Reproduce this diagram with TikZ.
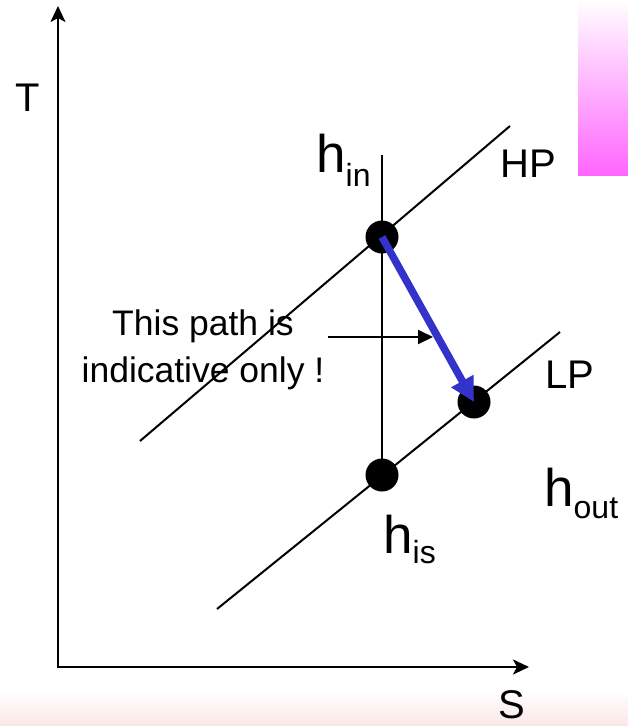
\documentclass[tikz,border=0pt]{standalone}
\usepackage{fontspec}
\setmainfont{Liberation Sans}
\usetikzlibrary{arrows.meta}
\definecolor{pinkbar}{RGB}{255,102,255}
\definecolor{pinkband}{RGB}{252,230,230}
\definecolor{pathblue}{RGB}{51,51,204}
\newcommand{\enth}[2]{{\fontsize{53}{53}\selectfont h}\raisebox{-#2}{\fontsize{32}{32}\selectfont #1}}

\begin{document}
\begin{tikzpicture}[
x=1pt, y=-1pt,
dot/.style={circle, fill=black, minimum size=33pt, inner sep=0},
big/.style={font=\fontsize{40}{40}\selectfont, inner sep=0, anchor=base},
hlabel/.style={inner sep=0, anchor=base west},
line/.style={line width=2pt}
]
\useasboundingbox (0,0) rectangle (628,726);

\shade[top color=white, bottom color=pinkbar] (578,0) rectangle (628,175);
\shade[top color=white, bottom color=pinkband] (0,690) rectangle (628,726);

\coordinate (O) at (58,667);
\coordinate (Ttop) at (58,6);
\coordinate (Send) at (529,667);
\draw[line width=2.5pt, {Stealth[length=16pt,width=15pt,inset=4pt]}-{Stealth[length=16pt,width=15pt,inset=4pt]}] (Ttop) -- (O) -- (Send);

\node[big] (T) at (28,111) {T};
\node[big] (S) at (512,718) {S};

\coordinate (hp1) at (140,441);
\coordinate (hp2) at (510,126);
\coordinate (lp1) at (217,609);
\coordinate (lp2) at (560,332);
\coordinate (vtop) at (382,155);

\draw[line] (hp1) -- (hp2);
\draw[line] (lp1) -- (lp2);

\node[dot] (hin) at (382,237) {};
\node[dot] (his) at (382,475) {};
\node[dot] (hout) at (474,402) {};

\draw[line] (vtop) -- (his.center);
\draw[pathblue, line width=7.5pt, -{Triangle[length=24pt,width=24pt]}] (hin.center) -- (hout.center);

\coordinate (a1) at (328,337);
\coordinate (a2) at (433,337);
\draw[line, -{Triangle[length=15pt,width=14pt]}] (a1) -- (a2);

\node[font=\fontsize{35.5}{47}\selectfont, align=center, inner sep=0] (note) at (203,350) {This path is\\indicative only !};

\node[big] (HP) at (528,177) {HP};
\node[big] (LP) at (570,388) {LP};

\node[hlabel] (Lin) at (316,172) {\enth{in}{14pt}};
\node[hlabel] (Lis) at (383,553) {\enth{is}{10pt}};
\node[hlabel] (Lout) at (544,506) {\enth{out}{12pt}};

\end{tikzpicture}
\end{document}
